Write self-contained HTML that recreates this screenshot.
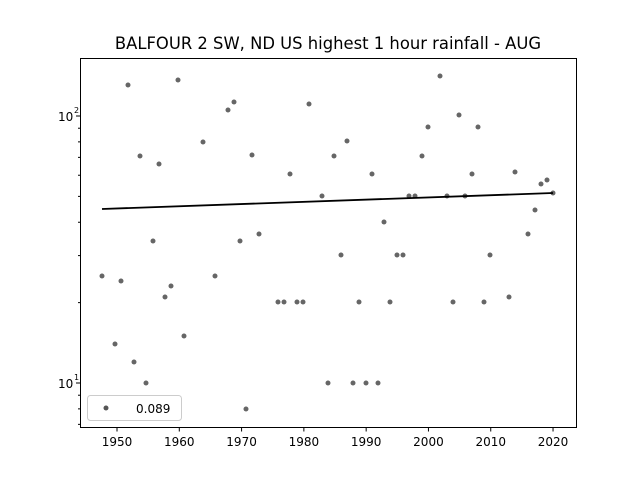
<!DOCTYPE html>
<html><head><meta charset="utf-8"><style>body{margin:0;background:#fff}svg{display:block}text{font-family:"DejaVu Sans","Liberation Sans",sans-serif;fill:#000}</style></head>
<body>
<svg width="640" height="480" viewBox="0 0 640 480" xmlns="http://www.w3.org/2000/svg">
<rect width="640" height="480" fill="#fff"/>
<text x="328" y="49" font-size="16.4" text-anchor="middle">BALFOUR 2 SW, ND US highest 1 hour rainfall - AUG</text>
<g id="pts" fill="#555" fill-opacity="0.9">
</g>
<line x1="102" y1="209" x2="553" y2="193" stroke="#000" stroke-width="1.8"/>
<rect x="80.5" y="58.5" width="496" height="369" fill="none" stroke="#000" stroke-width="1"/>
<g stroke="#000" stroke-width="1" id="ticks"></g>
<g font-size="12" text-anchor="middle" id="xl"></g>
<text x="58" y="121" font-size="12">10</text><text x="74" y="113" font-size="8">2</text>
<text x="58" y="388" font-size="12">10</text><text x="74" y="380" font-size="8">1</text>
<rect x="87.5" y="395.5" width="94" height="25" rx="3" fill="#fff" stroke="#ccc"/>
<circle cx="106" cy="408" r="2.5" fill="#555"/>
<text x="136" y="413" font-size="12">0.089</text>
<script>
var p=[[102,276],[115,344],[121,281],[128,85],[134,362],[140,156],[146,383],[153,241],[159,164],[165,297],[171,286],[178,80],[184,336],[203,142],[215,276],[228,110],[234,102],[240,241],[246,409],[252,155],[259,234],[278,302],[284,302],[290,174],[297,302],[303,302],[309,104],[322,196],[328,383],[334,156],[341,255],[347,141],[353,383],[359,302],[366,383],[372,174],[378,383],[384,222],[390,302],[397,255],[403,255],[409,196],[415,196],[422,156],[428,127],[440,76],[447,196],[453,302],[459,115],[465,196],[472,174],[478,127],[484,302],[490,255],[509,297],[515,172],[528,234],[535,210],[541,184],[547,180],[553,193]];
var ns="http://www.w3.org/2000/svg",g=document.getElementById('pts');
p.forEach(function(a){var c=document.createElementNS(ns,'circle');c.setAttribute('cx',a[0]);c.setAttribute('cy',a[1]);c.setAttribute('r',2.5);g.appendChild(c);});
var t=document.getElementById('ticks'),xl=document.getElementById('xl');
function ln(x1,y1,x2,y2){var l=document.createElementNS(ns,'line');l.setAttribute('x1',x1);l.setAttribute('y1',y1);l.setAttribute('x2',x2);l.setAttribute('y2',y2);t.appendChild(l);}
for(var y=1950;y<=2020;y+=10){var x=117+(y-1950)*6.229;ln(x,427.5,x,431.5);var s=document.createElementNS(ns,'text');s.setAttribute('x',x);s.setAttribute('y',446);s.textContent=y;xl.appendChild(s);}
ln(76,116,80.5,116);ln(76,383,80.5,383);
[7,8,9,20,30,40,50,60,70,80,90].forEach(function(v){var yy=383-267*Math.log10(v/10);ln(78,yy,80.5,yy);});
</script>
</svg>
</body></html>
